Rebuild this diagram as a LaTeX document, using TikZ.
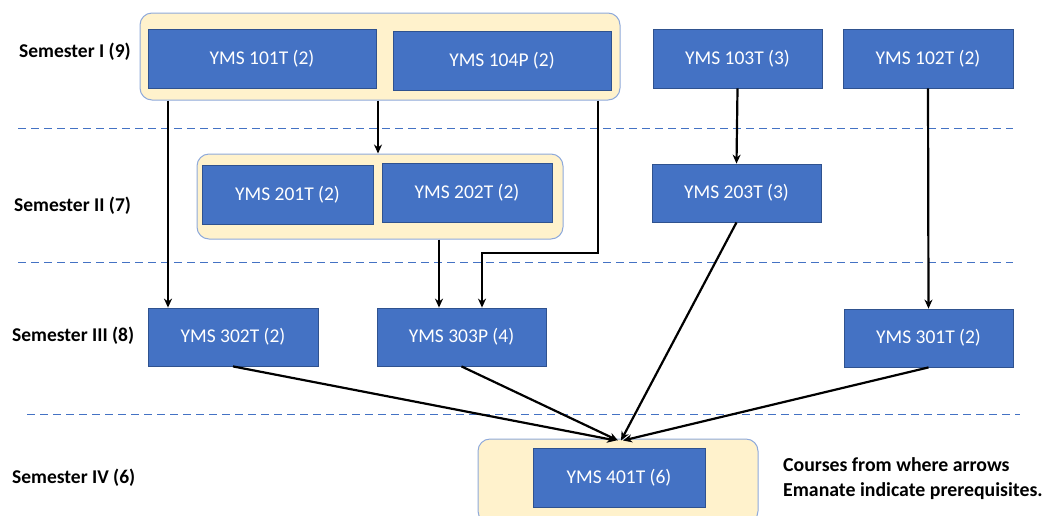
\documentclass[tikz,border=0pt]{standalone}
\usepackage{fontspec}
\setmainfont{Carlito}
\usetikzlibrary{arrows.meta}
\definecolor{boxblue}{HTML}{4472C4}
\definecolor{boxedge}{HTML}{2F528F}
\definecolor{grpfill}{HTML}{FFF2CC}
\definecolor{grpedge}{HTML}{8EA9DB}
\begin{document}
\begin{tikzpicture}[x=1pt,y=-1pt,
  course/.style={draw=boxedge, line width=0.8pt, fill=boxblue, text=white, inner sep=0pt,
    font=\fontsize{19.5}{22}\selectfont},
  grp/.style={draw=grpedge, line width=1pt, fill=grpfill, rounded corners=12pt, inner sep=0pt},
  semlabel/.style={anchor=west, inner sep=0pt, font=\fontsize{19.5}{22}\selectfont\bfseries},
  sep/.style={draw=boxblue, line width=1pt, dash pattern=on 8pt off 5pt},
  arr/.style={draw=black, line width=2.2pt, -{Stealth[length=9pt,width=8pt]}}]
\useasboundingbox (0,0) rectangle (1043,515);
% group boxes
\node[grp, minimum width=480pt, minimum height=87pt] (g1) at (380,56.5) {};
\node[grp, minimum width=366pt, minimum height=85pt] (g2) at (380,196.5) {};
\node[grp, minimum width=280pt, minimum height=84pt] (g4) at (618,481) {};
% courses
\node[course, minimum width=228pt, minimum height=59pt] (c101) at (262,58.5) {YMS 101T (2)};
\node[course, minimum width=218pt, minimum height=59pt] (c104) at (502,60.5) {YMS 104P (2)};
\node[course, minimum width=169pt, minimum height=59pt] (c103) at (737.5,58.5) {YMS 103T (3)};
\node[course, minimum width=170pt, minimum height=59pt] (c102) at (928,58.5) {YMS 102T (2)};
\node[course, minimum width=171pt, minimum height=59pt] (c201) at (287.5,194.5) {YMS 201T (2)};
\node[course, minimum width=170pt, minimum height=59pt] (c202) at (467,192.5) {YMS 202T (2)};
\node[course, minimum width=169pt, minimum height=58pt] (c203) at (736.5,193) {YMS 203T (3)};
\node[course, minimum width=170pt, minimum height=58pt] (c302) at (233,337) {YMS 302T (2)};
\node[course, minimum width=169pt, minimum height=58pt] (c303) at (461.5,337) {YMS 303P (4)};
\node[course, minimum width=169pt, minimum height=58pt] (c301) at (928.5,338) {YMS 301T (2)};
\node[course, minimum width=172pt, minimum height=59pt] (c401) at (619,477.5) {YMS 401T (6)};
% semester labels
\node[semlabel] (s1) at (19,52) {Semester I (9)};
\node[semlabel] (s2) at (14,206) {Semester II (7)};
\node[semlabel] (s3) at (12,336) {Semester III (8)};
\node[semlabel] (s4) at (12,478) {Semester IV (6)};
\node[anchor=west, inner sep=0pt, align=left, font=\fontsize{19.8}{25}\selectfont\bfseries] (note) at (783,479)
  {Courses from where arrows\\Emanate indicate prerequisites.};
% separators
\coordinate (d1a) at (18,128); \coordinate (d1b) at (1013,128);
\coordinate (d2a) at (18,262); \coordinate (d2b) at (1013,262);
\coordinate (d3a) at (27,414); \coordinate (d3b) at (1020,414);
\draw[sep] (d1a) -- (d1b);
\draw[sep] (d2a) -- (d2b);
\draw[sep] (d3a) -- (d3b);
% vertical connectors
\coordinate (xa) at (168,0);
\coordinate (xb) at (378,0);
\coordinate (xc) at (598,253);
\coordinate (xd) at (482,253);
\coordinate (xe) at (439,0);
\draw[arr] (g1.south -| xa) -- (c302.north -| xa);
\draw[arr] (g1.south -| xb) -- (g2.north -| xb);
\draw[arr] (g1.south -| xc) -- (xc) -- (xd) -- (c303.north -| xd);
\draw[arr] (g2.south -| xe) -- (c303.north -| xe);
\draw[arr] (c103.south) -- (c203.north);
\draw[arr] (c102.south) -- (c301.north);
% converging connectors
\draw[arr] (c302.south) -- ([xshift=-2pt,yshift=-2pt]g4.north);
\draw[arr] (c303.south) -- ([xshift=0pt,yshift=-2pt]g4.north);
\draw[arr] (c203.south) -- ([xshift=3pt,yshift=-2pt]g4.north);
\draw[arr] (c301.south) -- ([xshift=5pt,yshift=-2pt]g4.north);
\end{tikzpicture}
\end{document}
